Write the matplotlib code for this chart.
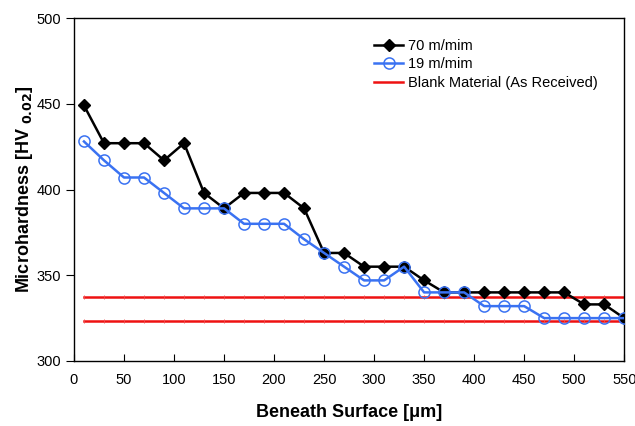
import matplotlib.pyplot as plt
from matplotlib.lines import Line2D

depth = [10, 30, 50, 70, 90, 110, 130, 150, 170, 190, 210, 230, 250, 270,
         290, 310, 330, 350, 370, 390, 410, 430, 450, 470, 490, 510, 530, 550]
hv_70 = [449, 427, 427, 427, 417, 427, 398, 389, 398, 398, 398, 389, 363, 363,
         355, 355, 355, 347, 340, 340, 340, 340, 340, 340, 340, 333, 333, 325]
hv_19 = [428, 417, 407, 407, 398, 389, 389, 389, 380, 380, 380, 371, 363, 355,
         347, 347, 355, 340, 340, 340, 332, 332, 332, 325, 325, 325, 325, 325]
blank_hi = 337.5
blank_lo = 323.3

plt.rcParams['font.family'] = ['Liberation Sans', 'DejaVu Sans']

fig = plt.figure(figsize=(6.35, 4.26), dpi=100)
ax = fig.add_axes([0.1165, 0.1526, 0.8665, 0.8051])

red = '#ee1111'
for b in (blank_hi, blank_lo):
    ax.plot(depth, [b] * len(depth), color=red, lw=1.8, marker='|', ms=3,
            mew=0.6, mec='#f05050')
l70, = ax.plot(depth, hv_70, color='black', lw=1.8, marker='D', ms=6.5,
               mfc='black', mec='black', zorder=3)
l19, = ax.plot(depth, hv_19, color='#3a72f2', lw=1.8, marker='o', ms=8,
               mfc='none', mec='#3a72f2', mew=1.1, zorder=4)

ax.set_xlim(0, 550)
ax.set_ylim(300, 500)
ax.set_xticks(range(0, 551, 50))
ax.set_yticks(range(300, 501, 50))
ax.tick_params(axis='x', direction='in', length=5, labelsize=10.5, pad=9)
ax.tick_params(axis='y', direction='out', length=6, labelsize=10.5)
for s in ax.spines.values():
    s.set_linewidth(1.0)

ax.set_xlabel('Beneath Surface [μm]', fontsize=13, fontweight='bold', labelpad=12)
ax.set_ylabel(r'Microhardness [HV $_{\mathbf{0.02}}$]', fontsize=13,
              fontweight='bold', labelpad=1)

red_handle = Line2D([], [], color=red, lw=1.8)
ax.legend([l70, l19, red_handle],
          ['70 m/mim', '19 m/mim', 'Blank Material (As Received)'],
          loc='upper left', bbox_to_anchor=(0.532, 0.96), frameon=False,
          fontsize=10.5, handlelength=2.0, handletextpad=0.3,
          labelspacing=0.3, borderpad=0)

fig.savefig('out.png', dpi=100)
